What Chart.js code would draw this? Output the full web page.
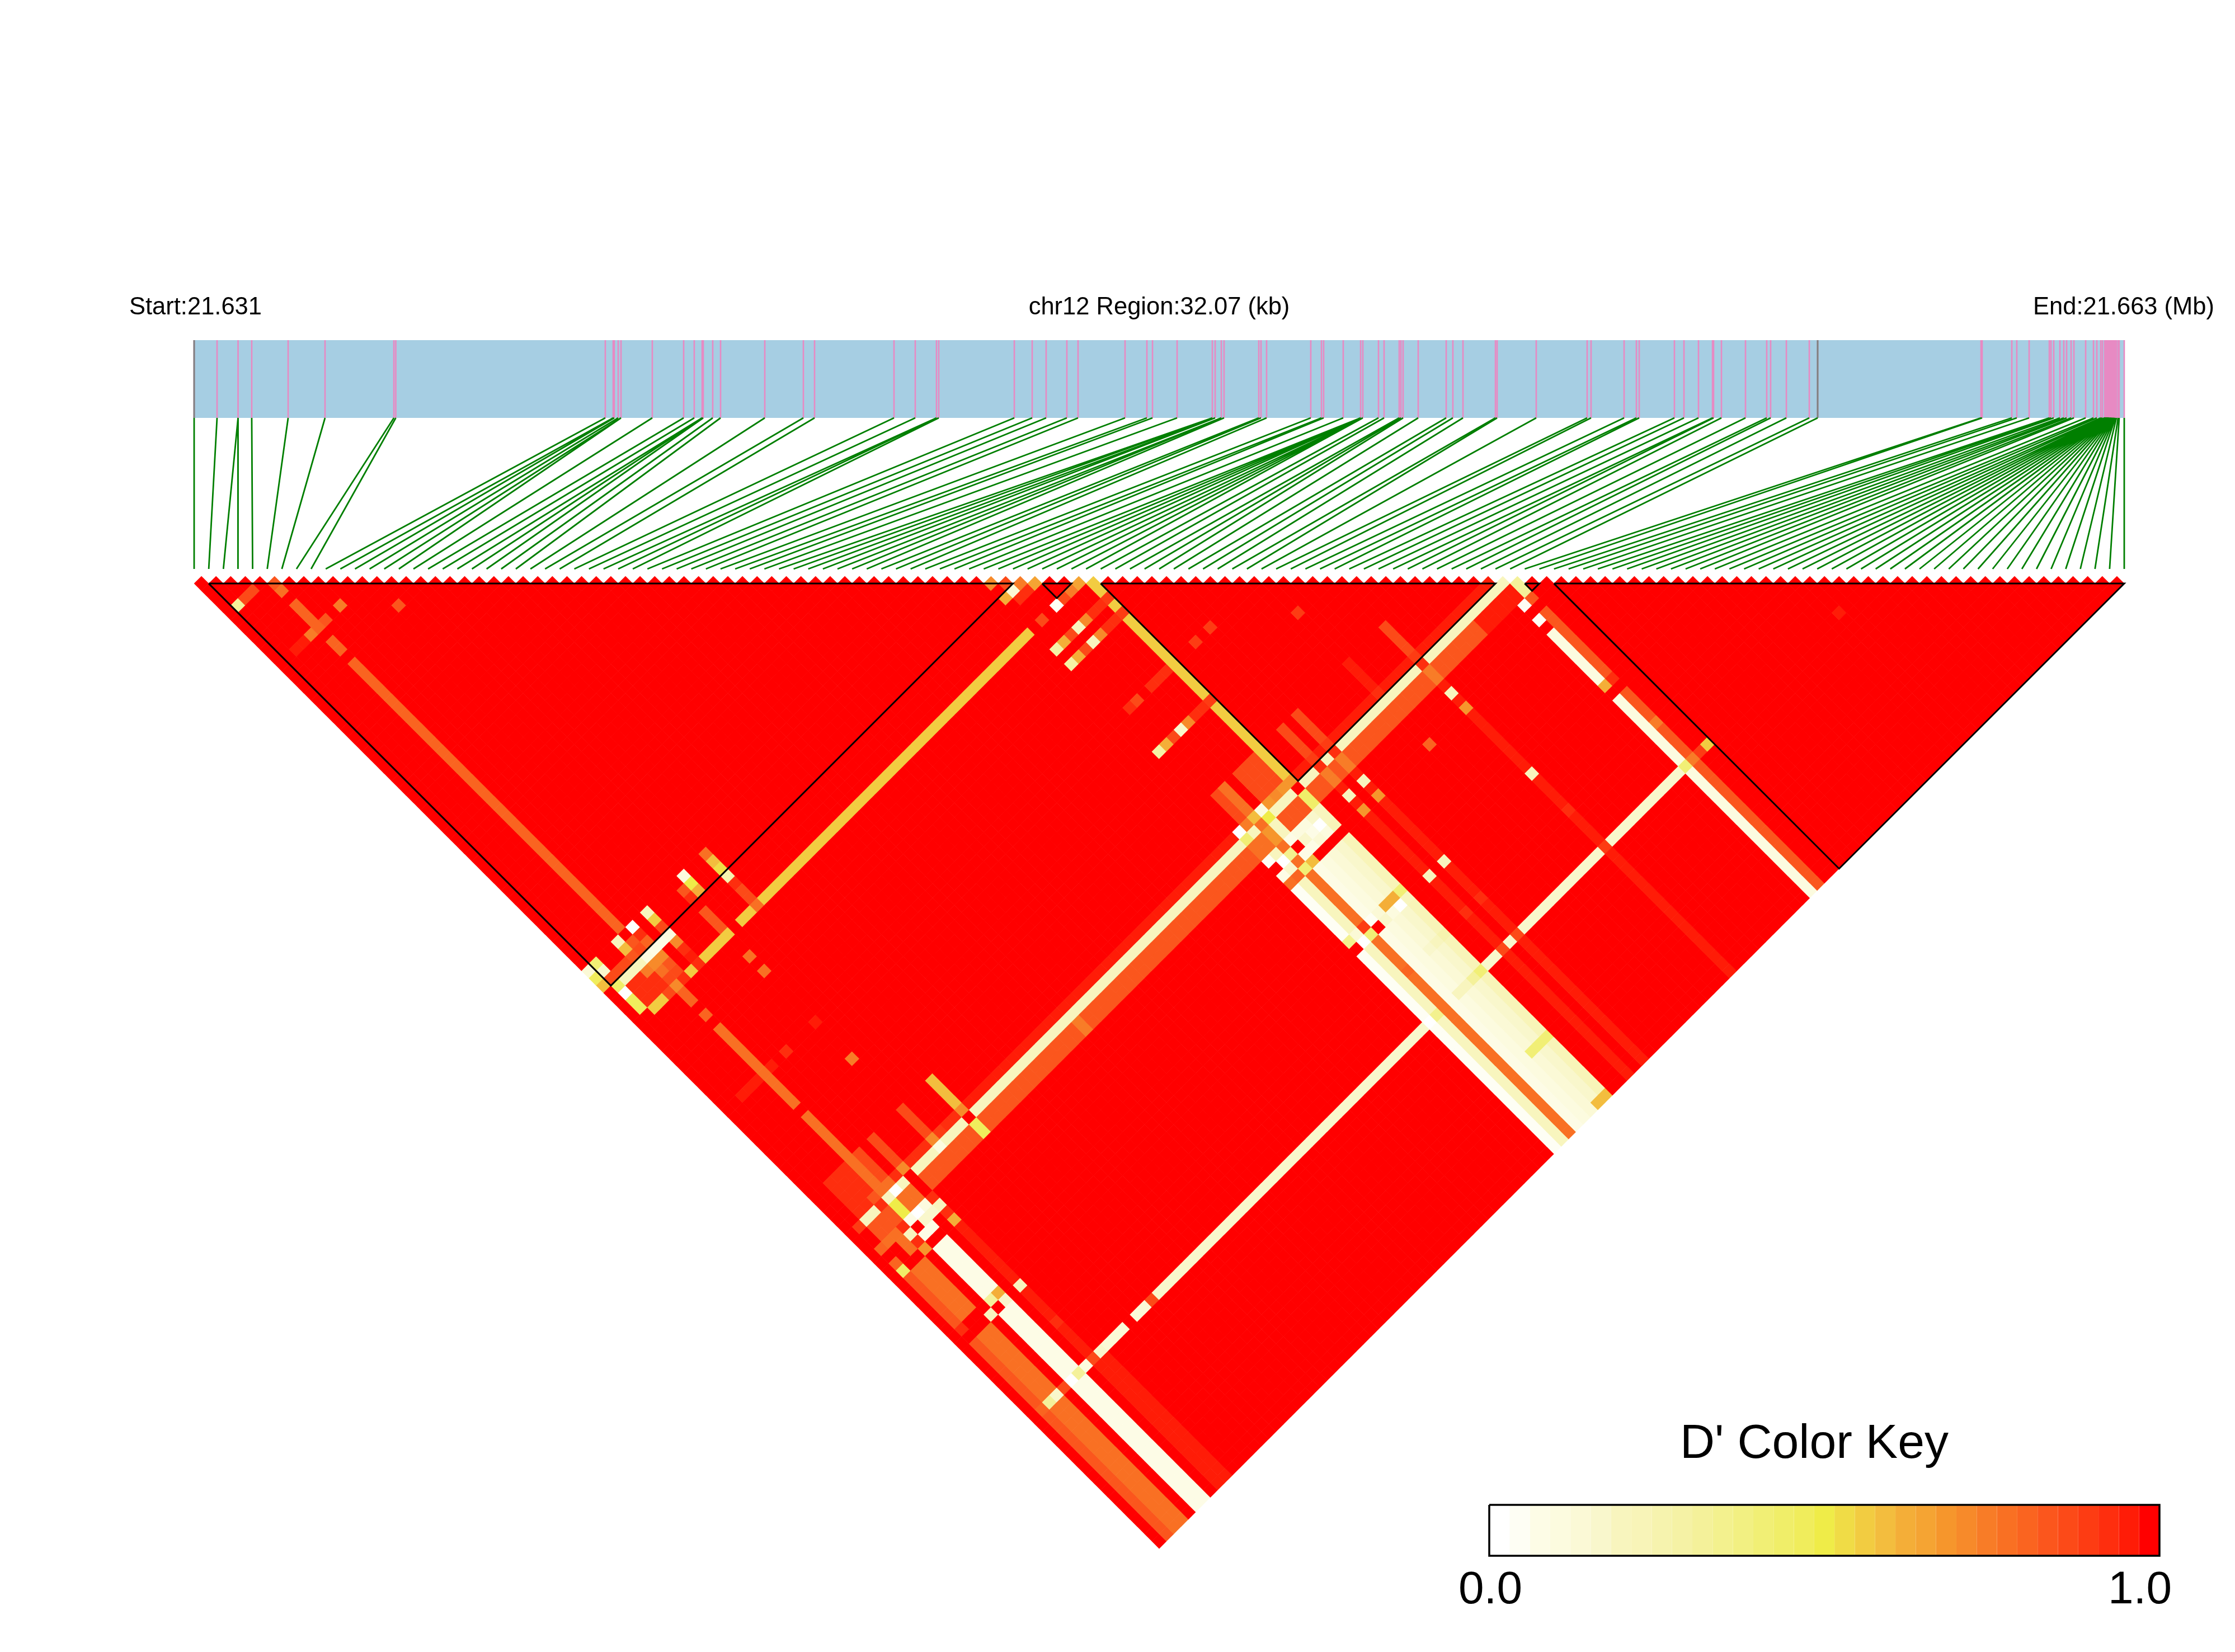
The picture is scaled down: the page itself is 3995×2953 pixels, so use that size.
<!DOCTYPE html>
<html>
<head>
<meta charset="utf-8">
<title>LD heatmap</title>
<script src="https://cdn.jsdelivr.net/npm/chart.js@4.4.1"></script>
<style>
html, body { margin: 0; padding: 0; background: #fff; }
canvas { display: block; }
</style>
</head>
<body>
<canvas id="vis" width="3995" height="2953"></canvas>
<script>
// SNP map positions, kb from the region start
const snpPositionsKb = [
  0, .381, .73, .73, .957, 1.562, 2.175, 3.319, 3.351, 6.832, 6.963, 6.981, 7.046, 7.093, 7.093, 7.613, 8.134, 8.31, 8.441, 8.441,
  8.459, 8.617, 8.747, 9.482, 10.123, 10.309, 11.629, 11.982, 12.335, 12.335, 12.373, 13.628, 13.925, 14.157, 14.501, 14.687, 15.468, 15.831, 15.924, 16.333,
  16.918, 16.918, 16.965, 16.965, 17.067, 17.067, 17.113, 17.69, 17.727, 17.82, 18.554, 18.731, 18.768, 19.093, 19.382, 19.382, 19.382, 19.382, 19.419, 19.419,
  19.419, 19.419, 19.679, 19.772, 20.023, 20.051, 20.088, 20.339, 20.804, 20.915, 21.083, 21.622, 21.65, 22.3, 23.146, 23.211, 23.76, 23.964, 24.011, 24.596,
  24.755, 24.996, 25.229, 25.247, 25.377, 25.777, 26.13, 26.195, 26.456, 26.837, 26.976, 29.69, 29.709, 30.202, 30.285, 30.49, 30.825, 30.853, 30.899, 31.001,
  31.066, 31.113, 31.187, 31.234, 31.429, 31.559, 31.615, 31.68, 31.708, 31.745, 31.754, 31.763, 31.773, 31.782, 31.791, 31.8, 31.81, 31.819, 31.828, 31.838,
  31.847, 31.856, 31.865, 31.875, 31.884, 31.893, 31.903, 31.912, 31.921, 31.94, 31.968, 31.986, 32.07
];
const regionKb = 32.07;
const greyTickSnps = [0, 90];

// LD blocks, edges between SNPs
const ldBlocks = [[0.5, 56.5], [57.5, 60.5], [61.5, 89.5], [90.5, 92.5], [92.5, 132.5]];

// D' below 1, everything not listed is 1.0
// [iFrom, iTo, j, value]
const rowStripes = [
  [17, 53, 89, .97], [62, 88, 89, .97],
  [17, 53, 90, .19], [62, 89, 90, .19],
  [17, 84, 91, .84], [17, 84, 92, .84], [85, 89, 91, .96], [85, 89, 92, .96],
  [30, 30, 91, .75], [30, 30, 92, .75],
  [9, 12, 61, .56], [14, 15, 61, .56], [17, 53, 61, .56],
  [10, 12, 115, .12], [14, 15, 115, .12], [17, 53, 115, .15], [62, 88, 115, .15]
];
// [i, jFrom, jTo, value]
const colStripes = [
  [5, 6, 6, .85], [5, 7, 7, .78], [5, 9, 12, .8], [5, 14, 15, .8], [5, 17, 53, .8], [5, 67, 77, .78], [5, 79, 89, .78],
  [16, 54, 54, .78], [16, 55, 55, .6], [16, 56, 56, .53], [16, 57, 57, .25], [16, 58, 58, .95], [16, 59, 60, .88], [16, 61, 61, .78], [16, 85, 88, .6],
  [61, 62, 63, .56], [61, 64, 64, .9], [61, 65, 65, .56], [61, 66, 66, .9], [61, 67, 77, .56], [61, 78, 78, .9], [61, 79, 88, .56],
  [6, 85, 88, .88], [8, 85, 88, .88], [12, 85, 88, .88], [55, 85, 88, .86], [56, 85, 88, .78], [64, 85, 88, .88], [66, 85, 88, .88], [73, 85, 88, .96], [78, 85, 88, .88],
  [54, 97, 103, .03], [54, 104, 104, .33], [54, 106, 132, .03],
  [55, 97, 103, .2], [55, 104, 104, .12], [55, 105, 105, 0], [55, 106, 132, .2],
  [56, 97, 103, .78], [56, 104, 104, .9], [56, 105, 105, .4], [56, 106, 132, .78],
  [57, 97, 103, .06], [57, 104, 104, .03], [57, 106, 132, .06],
  [58, 97, 132, .08], [59, 97, 132, .12], [60, 97, 132, .17], [61, 97, 132, .22],
  [1, 97, 103, .84], [1, 106, 132, .84],
  [2, 97, 103, .77], [2, 106, 132, .77], [3, 97, 103, .77], [3, 106, 132, .77],
  [5, 97, 103, .07], [5, 106, 132, .07], [6, 97, 103, .07], [6, 106, 132, .07],
  [8, 97, 104, .97], [8, 106, 132, .97], [9, 116, 132, .97],
  [64, 97, 132, .97], [66, 97, 132, .97], [78, 97, 132, .97],
  [89, 97, 103, .1], [89, 106, 132, .1], [90, 95, 103, .84], [90, 106, 132, .84]
];
// [iFrom, iTo, jFrom, jTo, value]
const cellBlocks = [
  [58, 60, 85, 88, .88], [2, 4, 85, 89, .94], [9, 12, 91, 92, .84], [13, 15, 91, 92, .84],
  [2, 4, 91, 92, .84], [58, 60, 91, 92, .84], [6, 7, 91, 92, .78], [5, 5, 91, 92, .5]
];
// [i, j, value]
const spotCells = [
  [1, 5, .3], [2, 5, .86], [3, 5, .86], [8, 12, .76], [12, 16, .83], [4, 12, .76], [2, 12, .97], [3, 12, .97], [6, 12, .84],
  [13, 54, .1], [13, 55, .5], [13, 56, .62], [12, 55, .84], [12, 56, .94], [12, 58, .84], [12, 59, .84], [12, 60, .84],
  [8, 54, .2], [8, 55, .55], [8, 56, .88], [8, 57, .08], [8, 58, .72], [8, 59, .94], [8, 60, .97], [8, 61, .95],
  [6, 54, 0], [6, 55, .94], [6, 56, .82], [6, 57, .05], [6, 58, .72], [6, 59, .84], [6, 60, .88], [6, 61, .95],
  [4, 54, .2], [4, 55, .6], [4, 56, .85], [4, 57, .2], [4, 58, .75], [4, 59, .94], [4, 60, .94], [4, 61, .88],
  [5, 55, .84], [5, 56, .88], [5, 57, .08], [5, 58, .72], [5, 59, .78], [5, 60, .88], [5, 61, .72], [5, 62, .8], [5, 63, .8], [5, 65, .8],
  [7, 57, .05], [7, 61, .56], [3, 57, .2], [2, 57, .2], [1, 57, .45], [1, 54, .4], [1, 55, .15], [0, 54, .12], [0, 55, .47], [0, 56, .6],
  [1, 56, .88], [2, 56, .88], [3, 56, .88], [1, 58, 0], [1, 59, .47], [1, 60, .48], [2, 61, .56], [3, 61, .56],
  [2, 58, .94], [3, 58, .94], [2, 59, .94], [3, 59, .94], [2, 60, .94], [3, 60, .94],
  [12, 64, .78], [12, 66, .78], [12, 73, .97], [8, 73, .94], [12, 78, .76], [2, 73, .96], [3, 73, .96], [4, 73, .96], [6, 73, .96],
  [54, 55, .72], [55, 56, .86], [56, 57, .74], [57, 58, .65], [60, 61, .65], [55, 57, .14], [56, 58, .94], [59, 61, .76],
  [54, 57, .63], [55, 58, .95], [58, 61, .87], [57, 61, .03], [55, 61, .88],
  [60, 64, .94], [59, 64, .94], [58, 64, .72], [57, 64, .18], [56, 64, .86], [55, 64, .62], [54, 64, .28],
  [60, 66, .94], [59, 66, .94], [58, 66, .72], [57, 66, .18], [56, 66, .86], [55, 66, .62], [54, 66, .28],
  [60, 78, .95], [59, 78, .95], [58, 78, .72], [57, 78, .17], [56, 78, .86], [55, 78, .62], [54, 78, .28],
  [58, 73, .95], [59, 73, .95], [60, 73, .95], [55, 73, .93], [56, 73, .88], [66, 73, .9], [64, 73, .9], [73, 78, .9], [73, 96, .82],
  [54, 89, 0], [55, 89, .75], [56, 89, .6], [57, 89, .08], [58, 89, .68], [59, 89, .72], [60, 89, .7], [61, 89, .68],
  [54, 90, .42], [55, 90, .2], [56, 90, .78], [57, 90, .5], [58, 90, .18], [59, 90, .18], [60, 90, .18], [61, 90, 1],
  [54, 91, .78], [55, 91, .78], [56, 91, .68], [57, 91, .2], [61, 91, .45], [54, 92, .78], [55, 92, .78], [56, 92, .68], [57, 92, .2], [61, 92, .45],
  [54, 93, .04], [55, 93, .2], [56, 93, .78], [57, 93, .06], [58, 93, .08], [59, 93, .1], [60, 93, .15], [61, 93, .2],
  [54, 94, 1], [55, 94, 0], [56, 94, .35], [57, 94, 1], [58, 94, .15], [59, 94, .06], [60, 94, 0], [61, 94, .2],
  [54, 95, .06], [55, 95, .15], [56, 95, .78], [57, 95, .06], [58, 95, .06], [59, 95, .12], [60, 95, .08], [61, 95, .22],
  [54, 96, .78], [55, 96, .8], [56, 96, .4], [57, 96, .6],
  [59, 104, .62], [60, 104, .62], [61, 104, .42], [58, 104, .12], [61, 105, .2], [60, 105, 0], [59, 105, .09], [58, 105, .15], [57, 105, 1],
  [61, 110, .25], [60, 110, .2], [59, 110, .15], [56, 110, .82], [61, 115, .4], [60, 115, .3], [59, 115, .2], [58, 115, .2], [57, 115, .06], [55, 115, .35], [54, 115, 0],
  [59, 124, .4], [60, 124, .4], [61, 124, .4], [60, 132, .6], [61, 132, .6],
  [64, 89, .9], [66, 89, .9], [78, 89, .9], [73, 89, .93], [64, 90, .94], [66, 90, .94], [78, 90, .95],
  [64, 91, .75], [64, 92, .75], [66, 91, .75], [66, 92, .75], [78, 91, .75], [78, 92, .75],
  [64, 93, .97], [66, 93, .97], [78, 93, .97], [64, 94, .2], [66, 94, .2], [78, 94, .2], [64, 95, .97], [66, 95, .97], [78, 95, .97],
  [64, 96, .68], [66, 96, .68], [78, 96, .68], [64, 105, .2], [66, 105, .2], [78, 105, .2], [64, 110, .93], [66, 110, .93], [78, 110, .93],
  [64, 115, .88], [66, 115, .88], [78, 115, .9],
  [89, 93, .03], [89, 95, .03], [90, 91, .3], [90, 92, .3], [90, 93, .85], [89, 104, .62], [90, 104, .95], [90, 110, .75],
  [89, 115, .4], [90, 115, .75], [91, 115, .9], [92, 115, .56], [110, 115, .97],
  [16, 89, .72], [15, 89, .95], [14, 89, .95], [13, 89, .92], [12, 89, .72], [11, 89, .95], [10, 89, .95], [9, 89, .95], [8, 89, .72], [7, 89, .93], [6, 89, .78], [4, 89, .84],
  [16, 90, 1], [15, 90, .2], [14, 90, .2], [13, 90, .2], [12, 90, .1], [11, 90, .2], [10, 90, .2], [9, 90, .2], [8, 90, 1], [7, 90, .2], [6, 90, 0], [5, 90, .2], [4, 90, .95], [3, 90, .2], [2, 90, .2], [1, 90, .9],
  [16, 91, .47], [16, 92, .47],
  [1, 93, .8], [2, 93, .78], [3, 93, .78], [4, 93, .95], [5, 93, .05], [6, 93, 0], [7, 93, .1], [8, 93, .95],
  [3, 94, .78], [4, 94, .2], [6, 94, .15], [7, 94, .15], [8, 94, .2],
  [1, 95, .82], [3, 95, .78], [4, 95, .94], [5, 95, .05], [6, 95, .05], [8, 95, .94],
  [1, 96, .45], [4, 96, .68], [8, 96, .62],
  [1, 104, .93], [5, 104, .3], [6, 104, .62], [4, 105, .2], [6, 105, .15], [8, 105, .2], [8, 110, .93],
  [1, 115, .8], [2, 115, .3], [3, 115, .15], [4, 115, .88], [5, 115, 0], [6, 115, .3], [7, 115, .1], [8, 115, .88], [9, 115, .15], [16, 115, .88]
];

// colour key, 0.0 to 1.0
const keyColors = [
  '#FFFFFF', '#FEFEF4', '#FDFCE6', '#FCFBDF', '#FBF9D6', '#F9F7CC', '#F8F5BE', '#F8F4B8', '#F6F3AE', '#F5F2A5', '#F4F19A',
  '#F3F18E', '#F2F082', '#F1EF75', '#F0EE69', '#F0ED5C', '#EFEC48', '#F0DC46', '#F2CC41', '#F3BD3E', '#F4AE38', '#F5A433',
  '#F6962C', '#F78A2A', '#F87C27', '#F97023', '#FA6420', '#FB561D', '#FC4A18', '#FD3C13', '#FE2E0E', '#FF1C07', '#FF0000'
];
const topLabels = ['Start:21.631', 'chr12 Region:32.07 (kb)', 'End:21.663 (Mb)'];
const keyTitle = "D' Color Key";
const keyTickLabels = ['0.0', '1.0'];

// layout, pixels of the 3995x2953 page
const W = 3995, H = 2953;
const heatLeft = 347, heatTop = 1030, cellPx = 3450 / 132;
const toX = px => (px - heatLeft) / cellPx;
const toY = px => (px - heatTop) / cellPx;

const nSnps = snpPositionsKb.length;
const ld = [];
for (let i = 0; i < nSnps; i++) ld.push(new Array(nSnps).fill(1));
rowStripes.forEach(([a, b, j, v]) => { for (let i = a; i <= b; i++) ld[i][j] = v; });
colStripes.forEach(([i, a, b, v]) => { for (let j = a; j <= b; j++) ld[i][j] = v; });
cellBlocks.forEach(([a, b, c, d, v]) => {
  for (let i = a; i <= b; i++) for (let j = c; j <= d; j++) ld[i][j] = v;
});
spotCells.forEach(([i, j, v]) => { ld[i][j] = v; });

const cells = [], cellColors = [];
for (let i = 0; i < nSnps; i++) {
  for (let j = i + 1; j < nSnps; j++) {
    cells.push({ x: (i + j) / 2, y: (j - i) / 2 });
    cellColors.push(keyColors[Math.round(ld[i][j] * (keyColors.length - 1))]);
  }
}

const kbToX = kb => kb / regionKb * (nSnps - 1);
const GAP = { x: null, y: null };
const trackTop = toY(608), trackBottom = toY(747), connectorEnd = toY(1017);

const tickPts = list => list.flatMap(s => [
  { x: kbToX(snpPositionsKb[s]), y: trackTop }, { x: kbToX(snpPositionsKb[s]), y: trackBottom }, GAP
]);
const allSnps = snpPositionsKb.map((_, s) => s);
const connectorPts = allSnps.flatMap(s => [
  { x: kbToX(snpPositionsKb[s]), y: trackBottom }, { x: s, y: connectorEnd }, GAP
]);
const blockPts = ldBlocks.flatMap(([a, b]) => [
  { x: a + 0.5, y: 0.5 }, { x: (a + b) / 2, y: (b - a) / 2 }, { x: b - 0.5, y: 0.5 }, { x: a + 0.5, y: 0.5 }, GAP
]);

const lineSet = (data, color, width) => ({
  type: 'scatter', data, showLine: true, borderColor: color, backgroundColor: color, borderWidth: width,
  pointRadius: 0, pointHoverRadius: 0, tension: 0, borderCapStyle: 'butt', spanGaps: false
});

const keyLeft = 2662, keyRight = 3860, keyTop = 2690, keyBottom = 2781;
const keyStep = (keyRight - keyLeft) / keyColors.length;
const keySets = keyColors.map((c, b) => lineSet([
  { x: toX(keyLeft + b * keyStep), y: toY((keyTop + keyBottom) / 2) },
  { x: toX(keyLeft + (b + 1) * keyStep), y: toY((keyTop + keyBottom) / 2) }
], c, keyBottom - keyTop));
const keyFrame = lineSet([
  { x: toX(keyLeft), y: toY(keyTop) }, { x: toX(keyRight), y: toY(keyTop) }, { x: toX(keyRight), y: toY(keyBottom) },
  { x: toX(keyLeft), y: toY(keyBottom) }, { x: toX(keyLeft), y: toY(keyTop) }
], '#000', 3.5);
keyFrame.borderJoinStyle = 'miter';

const textPlugin = {
  id: 'texts',
  afterDraw(chart) {
    const c = chart.ctx;
    const put = (text, px, py, size) => {
      c.font = size + 'px "Liberation Sans"';
      c.fillText(text, px, py);
    };
    c.save();
    c.fillStyle = '#000';
    c.textAlign = 'center';
    c.textBaseline = 'alphabetic';
    put(topLabels[0], 349.5, 562, 43.5);
    put(topLabels[1], 2072, 562, 43.5);
    put(topLabels[2], 3796, 562, 43.5);
    put(keyTitle, 3243, 2606, 86);
    put(keyTickLabels[0], 2664, 2866, 82);
    put(keyTickLabels[1], 3825, 2866, 82);
    c.restore();
  }
};

new Chart(document.getElementById('vis'), {
  type: 'scatter',
  data: {
    // the first dataset ends up on top
    datasets: [
      keyFrame,
      ...keySets,
      lineSet(blockPts, '#000', 3),
      lineSet(connectorPts, '#007F00', 2.8),
      lineSet(tickPts(greyTickSnps), '#808080', 3),
      lineSet(tickPts(allSnps), '#E78AC3', 2.6),
      lineSet([{ x: 0, y: (trackTop + trackBottom) / 2 }, { x: nSnps - 1, y: (trackTop + trackBottom) / 2 }], '#A6CEE3', 139),
      {
        data: cells,
        pointStyle: 'rectRot',
        pointRadius: 13.4,
        pointBorderWidth: 0,
        pointBackgroundColor: cellColors,
        showLine: false
      }
    ]
  },
  options: {
    responsive: false,
    devicePixelRatio: 1,
    animation: false,
    events: [],
    layout: { padding: 0, autoPadding: false },
    plugins: { legend: { display: false }, tooltip: { enabled: false } },
    scales: {
      x: { type: 'linear', display: false, min: toX(0), max: toX(W) },
      y: { type: 'linear', display: false, reverse: true, min: toY(0), max: toY(H) }
    }
  },
  plugins: [textPlugin]
});
</script>
</body>
</html>
